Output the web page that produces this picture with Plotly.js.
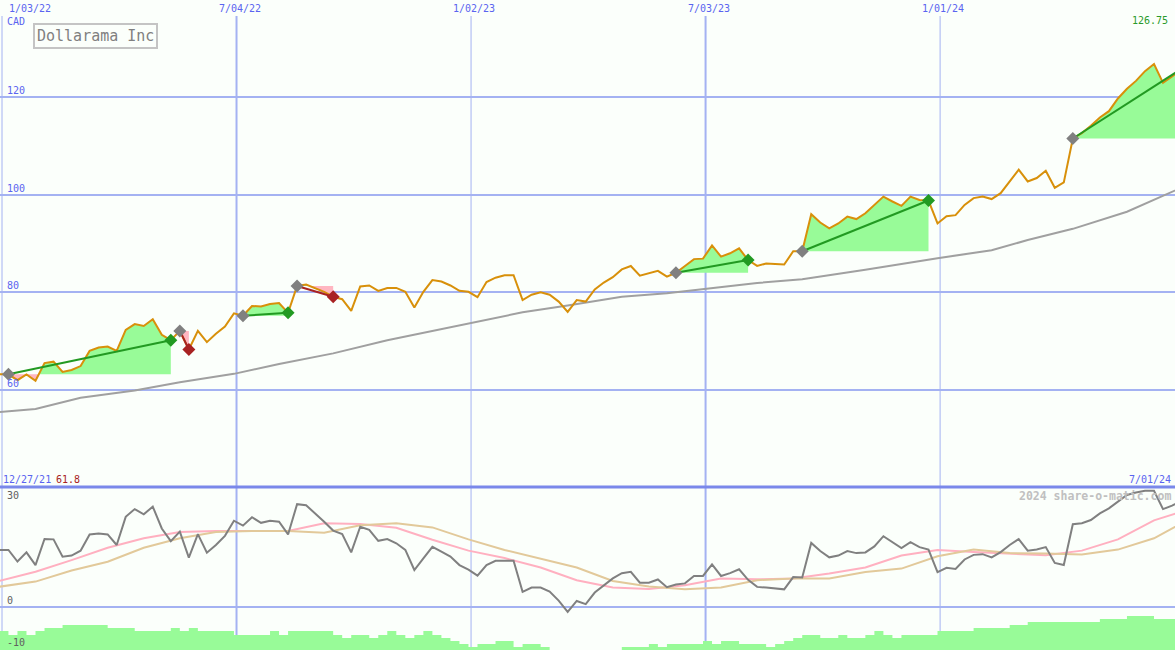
<!DOCTYPE html>
<html><head><meta charset="utf-8">
<script src="https://cdn.plot.ly/plotly-3.0.1.min.js"></script>
<style>html,body{margin:0;padding:0;background:#fbfffb}#chart{width:1175px;height:650px}</style>
</head><body><div id="chart"></div>
<script>
// ---------- DATA (weekly closes, first week ending Sat 2022-01-01) ----------
const firstWeek = '2022-01-01';
const price = [
 63.2,63.2,62.0,63.2,61.9,65.5,65.8,63.7,64.1,64.9,
 68.0,68.7,68.9,68.0,72.3,73.5,73.1,74.5,71.3,70.2,
 72.1,68.3,72.1,69.8,71.5,73.0,75.7,75.2,77.2,77.1,
 77.6,77.8,75.8,81.3,81.6,80.9,80.1,79.1,78.6,76.2,
 81.2,81.4,80.3,80.9,80.9,80.1,76.9,80.1,82.5,82.2,
 81.4,80.3,80.1,79.0,82.1,83.0,83.5,83.5,78.4,79.5,
 80.0,79.5,78.1,76.0,78.4,78.1,80.6,82.0,83.1,84.7,
 85.4,83.4,83.9,84.4,83.2,84.0,85.4,86.8,86.9,89.6,
 87.3,88.0,89.0,86.6,85.4,85.9,85.8,85.7,88.4,88.4,
 96.0,94.3,93.1,94.1,95.5,95.0,96.2,97.9,99.6,98.6,
 97.7,99.6,98.9,98.8,94.1,95.6,95.8,97.9,99.3,99.6,
 99.1,100.3,102.7,105.1,102.7,103.4,104.9,101.4,102.5,111.5,
 112.6,114.1,115.8,117.1,119.7,121.7,123.3,125.3,126.75,122.9,
 124.2,125.7];
// 40-week moving average (read at selected weeks)
const maWeek = [0,4,9,15,20,26,31,37,43,48,53,58,63,69,74,78,84,89,96,104,110,114,119,125,131];
const maValue = [55.5,56.1,58.4,59.9,61.6,63.3,65.3,67.5,70.2,72.1,73.9,75.9,77.3,79.1,79.8,80.6,81.9,82.7,84.6,87.0,88.6,90.7,93.0,96.5,101.4];
// trade signals: start / end week index (last one still open)
const sigStart = [1,20,27,33,75,89,119];
const sigEnd   = [19,21,32,37,83,103,131];
const sigOpen  = [false,false,false,false,false,false,true];
// lower panel: oscillator
const osc = [
 16.3,16.3,13.0,15.6,12.0,19.4,19.3,14.4,14.7,16.1,
 20.7,21.0,20.7,17.7,25.7,27.9,26.4,28.6,22.4,18.8,
 21.5,14.1,20.8,15.5,17.7,20.3,24.6,23.2,25.6,24.0,
 24.6,24.3,20.7,29.3,29.0,26.7,24.3,21.8,20.8,15.6,
 22.9,22.0,18.9,19.4,18.2,16.3,10.6,13.9,17.2,15.8,
 14.4,12.0,10.7,9.0,12.0,13.2,13.2,13.2,4.4,5.6,
 5.6,4.5,1.9,-1.3,1.8,0.9,4.2,6.1,8.2,9.7,
 10.1,7.0,7.0,7.9,5.7,6.5,6.8,8.9,8.9,12.2,
 8.9,9.7,10.8,7.8,5.8,5.6,5.3,5.1,8.6,8.5,
 18.3,16.0,14.2,14.7,16.0,15.4,15.6,17.3,20.2,18.4,
 16.8,18.5,17.1,16.4,10.0,11.2,10.9,13.6,14.9,15.1,
 14.2,15.7,17.7,19.4,16.1,16.4,17.1,12.6,12.0,23.6,
 23.9,24.8,26.7,28.1,30.0,31.9,32.6,33.1,33.1,27.9,
 28.9,30.2];
const avgWeek = [0,4,8,12,16,20,24,28,32,36,40,44,48,52,56,60,64,68,72,76,80,84,88,92,96,100,104,108,112,116,120,124,128,131];
const oscFast = [7.5,10.1,13.4,16.9,19.6,21.4,21.7,21.7,21.7,23.9,23.7,22.6,19.2,16.1,14.0,11.3,7.7,5.65,5.2,6.25,8.2,7.95,8.2,9.6,11.3,14.7,16.3,15.7,15.2,14.8,16.1,19.3,24.7,27.1];
const oscSlow = [5.85,7.3,10.45,12.95,16.9,19.6,21.4,21.7,21.7,21.2,23.3,23.9,22.7,19.3,16.3,13.9,11.3,7.5,5.9,5.1,5.6,7.7,8.2,8.2,10.0,11.0,14.5,16.4,15.4,15.3,15.0,16.4,19.6,23.8];
const strength = [
 19,15,19,15,19,22,22,25,25,25,
 25,25,22,22,22,19,19,19,19,22,
 19,22,19,19,19,19,15,15,15,15,
 19,15,19,19,19,19,19,15,12,15,
 15,12,15,19,15,12,15,19,15,12,
 9,6,3,6,6,9,9,3,6,6,
 3,0,0,0,0,0,0,0,0,3,
 3,3,6,3,6,6,6,6,9,6,
 9,9,6,6,6,3,6,9,12,15,
 15,12,12,15,12,12,15,19,15,12,
 15,15,15,15,19,19,19,19,22,22,
 22,22,25,25,28,28,28,28,28,28,
 28,28,31,31,31,34,34,34,31,31,
 31,31];
const gridDates  = ['2022-01-03','2022-07-04','2023-01-02','2023-07-03','2024-01-01'];
const gridLabels = ['1/03/22','7/04/22','1/02/23','7/03/23','1/01/24'];
const priceTicks = [60,80,100,120];
const lowerTicks = [30,0,-10];

// ---------- helpers ----------
const W = 1175, H = 650;
const DAY = 86400000;
const t0 = Date.parse(firstWeek + 'T00:00:00Z');
const fmt = ms => new Date(ms).toISOString().slice(0,19).replace('T',' ');
const tms = price.map((_, i) => t0 + i * 7 * DAY);
const dates = tms.map(fmt);
const px = v => v / W, py = v => 1 - v / H;

const BLUE = '#5a64f0', GRID = '#a4b2f2';
const traces = [];

// moving average
traces.push({x: maWeek.map(i => dates[i]), y: maValue, mode:'lines', line:{color:'#a0a0a0', width:2}, xaxis:'x', yaxis:'y'});

// signal fills
function edge(s, e, base, above) {
  const xs = [], ys = [];
  for (let i = s; i <= e; i++) {
    if (i > s) {
      const a = price[i-1], b = price[i];
      if ((a - base) * (b - base) < 0) {
        const t = (base - a) / (b - a);
        xs.push(fmt(tms[i-1] + t * (tms[i] - tms[i-1]))); ys.push(base);
      }
    }
    xs.push(dates[i]); ys.push(above ? Math.max(price[i], base) : Math.min(price[i], base));
  }
  xs.push(dates[e], dates[s]); ys.push(base, base);
  return {xs, ys};
}
sigStart.forEach((s, k) => {
  const e = sigEnd[k], base = price[s];
  const up = edge(s, e, base, true), dn = edge(s, e, base, false);
  traces.push({x: up.xs, y: up.ys, mode:'lines', fill:'toself', fillcolor:'#98fb98', line:{width:0, color:'rgba(0,0,0,0)'}, xaxis:'x', yaxis:'y'});
  traces.push({x: dn.xs, y: dn.ys, mode:'lines', fill:'toself', fillcolor:'#ffb6c1', line:{width:0, color:'rgba(0,0,0,0)'}, xaxis:'x', yaxis:'y'});
});

// price line
traces.push({x: dates, y: price, mode:'lines', line:{color:'#d8900a', width:2}, xaxis:'x', yaxis:'y'});

// trend lines and markers
sigStart.forEach((s, k) => {
  const e = sigEnd[k], gain = price[e] >= price[s];
  const col = gain ? '#229a22' : '#a82222';
  traces.push({x: [dates[s], dates[e]], y: [price[s], price[e]], mode:'lines', line:{color:col, width:2}, xaxis:'x', yaxis:'y'});
  traces.push({x: [dates[s]], y: [price[s]], mode:'markers', marker:{symbol:'diamond', size:10, color:'#808080'}, xaxis:'x', yaxis:'y'});
  if (!sigOpen[k]) traces.push({x: [dates[e]], y: [price[e]], mode:'markers', marker:{symbol:'diamond', size:10, color:col}, xaxis:'x', yaxis:'y'});
});

// lower panel
traces.push({x: dates, y: strength, mode:'lines', line:{shape:'hv', width:0, color:'rgba(0,0,0,0)'}, fill:'tozeroy', fillcolor:'#98fb98', xaxis:'x2', yaxis:'y3'});
traces.push({x: avgWeek.map(i => dates[i]), y: oscFast, mode:'lines', line:{color:'#ffb0c0', width:2}, xaxis:'x2', yaxis:'y2'});
traces.push({x: avgWeek.map(i => dates[i]), y: oscSlow, mode:'lines', line:{color:'#e2c99a', width:2}, xaxis:'x2', yaxis:'y2'});
traces.push({x: dates, y: osc, mode:'lines', line:{color:'#808080', width:2}, xaxis:'x2', yaxis:'y2'});

// ---------- layout ----------
const xRange = ['2022-01-01 10:45:00', '2024-07-01 07:00:00'];
const lowTop = 163 / H;
const mono = 'DejaVu Sans Mono, monospace';

const shapes = gridDates.map((d, k) => ({type:'line', xref:'x', yref:'paper', x0:d, x1:d, y0:0, y1:py(16),
  line:{color:GRID, width: (k % 2 === 1) ? 2 : 1}, layer:'below'}));
shapes.push({type:'line', xref:'paper', yref:'paper', x0:0, x1:1, y0:lowTop, y1:lowTop, line:{color:'#7a88ea', width:3}});

const ann = [];
gridDates.forEach((d, k) => {
  if (k === 0) ann.push({xref:'paper', yref:'paper', x:px(7), y:py(9), xanchor:'left', yanchor:'middle', text:gridLabels[k], showarrow:false, font:{family:mono, size:10, color:BLUE}});
  else ann.push({xref:'x', yref:'paper', x:d, xshift:3, y:py(9), xanchor:'center', yanchor:'middle', text:gridLabels[k], showarrow:false, font:{family:mono, size:10, color:BLUE}});
});
priceTicks.forEach(v => ann.push({xref:'paper', yref:'y', x:px(5), y:v, xanchor:'left', yanchor:'bottom', yshift:-1, text:String(v), showarrow:false, font:{family:mono, size:10, color:BLUE}}));
lowerTicks.forEach(v => ann.push({xref:'paper', yref:'y2', x:px(5), y:v, xanchor:'left', yanchor: v < 0 ? 'middle' : 'bottom', yshift: v < 0 ? 0 : -1, text:String(v), showarrow:false, font:{family:mono, size:10, color:'#606060'}}));
ann.push({xref:'paper', yref:'paper', x:px(5), y:py(21.5), xanchor:'left', yanchor:'middle', text:'CAD', showarrow:false, font:{family:mono, size:10, color:BLUE}});
ann.push({xref:'paper', yref:'paper', x:px(95.5), y:py(36.3), xanchor:'center', yanchor:'middle', text:'Dollarama Inc', showarrow:false,
  font:{family:mono, size:15, color:'#808080'}, bordercolor:'#c4c4c4', borderwidth:2, borderpad:2});
ann.push({xref:'paper', yref:'paper', x:px(1170), y:py(20.5), xanchor:'right', yanchor:'middle', text:String(Math.max(...price).toFixed(2)), showarrow:false, font:{family:mono, size:10, color:'#2a9a2a'}});
ann.push({xref:'paper', yref:'paper', x:px(1), y:py(479), xanchor:'left', yanchor:'middle', text:'12/27/21', showarrow:false, font:{family:mono, size:10, color:BLUE}});
ann.push({xref:'paper', yref:'paper', x:px(54), y:py(479), xanchor:'left', yanchor:'middle', text:String(Math.min(...price) < 61.85 ? 61.8 : 61.8), showarrow:false, font:{family:mono, size:10, color:'#a82222'}});
ann.push({xref:'paper', yref:'paper', x:px(1173), y:py(479), xanchor:'right', yanchor:'middle', text:'7/01/24', showarrow:false, font:{family:mono, size:10, color:BLUE}});
ann.push({xref:'paper', yref:'paper', x:px(1173), y:py(496), xanchor:'right', yanchor:'middle', text:'2024 share-o-matic.com', showarrow:false, font:{family:mono, size:11.5, color:'#c0c0c0', weight:'bold'}});

const layout = {
  width: W, height: H, margin:{l:0, r:0, t:0, b:0},
  paper_bgcolor:'#fbfffb', plot_bgcolor:'rgba(0,0,0,0)', showlegend:false, hovermode:false,
  xaxis:{type:'date', range:xRange, domain:[0,1], anchor:'y', showgrid:false, showticklabels:false, zeroline:false, showline:false, ticks:''},
  xaxis2:{type:'date', range:xRange, domain:[0,1], anchor:'y2', showgrid:false, showticklabels:false, zeroline:false, showline:false, ticks:''},
  yaxis:{domain:[lowTop, py(16)], range:[40.13, 136.59], anchor:'x', tickvals:priceTicks, showgrid:true, gridcolor:GRID, gridwidth:2, showticklabels:false, zeroline:false, ticks:''},
  yaxis2:{domain:[0, lowTop], range:[-12.13, 34.18], anchor:'x2', tickvals:[0], showgrid:true, gridcolor:GRID, gridwidth:2, showticklabels:false, zeroline:false, ticks:''},
  yaxis3:{domain:[0, 43 / H], range:[0, 43], anchor:'x2', showgrid:false, showticklabels:false, zeroline:false, ticks:''},
  shapes: shapes, annotations: ann
};
Plotly.newPlot('chart', traces, layout, {staticPlot:true, displayModeBar:false});
</script>
</body></html>
